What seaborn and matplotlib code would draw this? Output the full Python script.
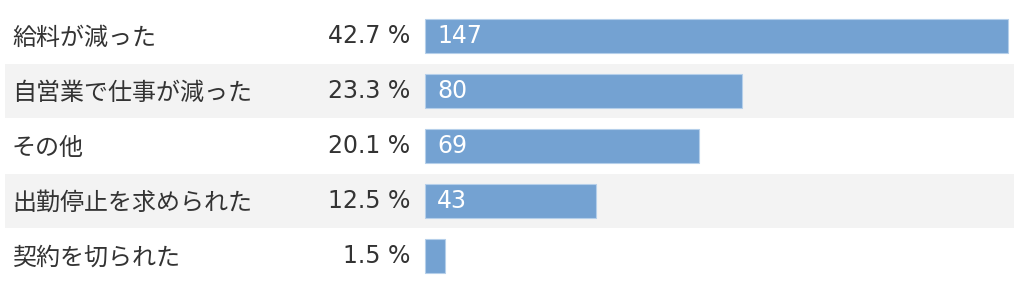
import matplotlib
matplotlib.use("Agg")
import matplotlib.pyplot as plt
import seaborn as sns
import pandas as pd

categories = ["給料が減った", "自営業で仕事が減った", "その他", "出勤停止を求められた", "契約を切られた"]
counts = [147, 80, 69, 43, 5]
percents = [42.7, 23.3, 20.1, 12.5, 1.5]

sns.set_theme(style="white")
plt.rcParams['font.family'] = ['Noto Sans CJK JP', 'DejaVu Sans']

df = pd.DataFrame({"cat": categories, "n": counts})

W, H = 1024, 291
fig = plt.figure(figsize=(W / 100, H / 100), dpi=100)
ax = fig.add_axes([0, 0, 1, 1])

sns.barplot(data=df, y="cat", x="n", orient="h", color="#74a2d2",
            saturation=1, width=0.61, ax=ax, zorder=2,
            edgecolor="#b5cfea", linewidth=0.8)

# pixel mapping
x0_px, x1_px = 425, 1008
scale = (x1_px - x0_px) / max(counts)
ax.set_xlim(-x0_px / scale, (W - x0_px) / scale)
c0, pitch = 36.0, 55.0
ax.set_ylim((H - c0) / pitch, -c0 / pitch)

for i in range(len(categories)):
    if i % 2 == 1:
        ax.axhspan(i - 0.495, i + 0.495, xmin=5 / W, xmax=1014 / W,
                   color="#f3f3f3", zorder=0, lw=0)

fs = 17
num_font = ['DejaVu Sans', 'Noto Sans CJK JP']
tr = ax.get_yaxis_transform()
for i, (cat, n, p) in enumerate(zip(categories, counts, percents)):
    ax.text(12 / W, i + 0.035, cat, transform=tr, ha="left", va="center",
            fontsize=17.3, color="#333333")
    ax.text(410 / W, i, f"{p:.1f} %", transform=tr, ha="right", va="center",
            fontsize=fs, color="#333333", family=num_font)
    if n >= 10:
        ax.text(437 / W, i, str(n), transform=tr, ha="left", va="center",
                fontsize=fs, color="white", zorder=3, family=num_font)

ax.set_axis_off()
fig.savefig("out.png", dpi=100, facecolor="white")
